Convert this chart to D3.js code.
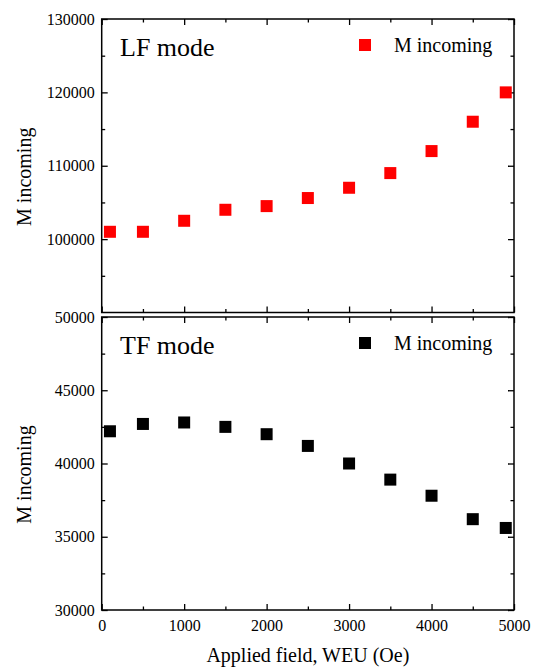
<!DOCTYPE html>
<html>
<head>
<meta charset="utf-8">
<script src="https://cdn.jsdelivr.net/npm/d3@7"></script>
<style>
  body { margin: 0; background: #fff; }
  svg text { font-family: "Times New Roman", "Liberation Serif", serif; fill: #000; }
  .axis path, .axis line { stroke: #000; stroke-width: 1.3; }
  .frame { fill: none; stroke: #000; stroke-width: 1.5; }
</style>
</head>
<body>
<script>
// applied field (Oe)
const fields = [100, 500, 1000, 1500, 2000, 2500, 3000, 3500, 4000, 4500, 4900];
// LF mode, M incoming
const lfValues = [101000, 101000, 102500, 104000, 104500, 105600, 107000, 109000, 112000, 116000, 120000];
// TF mode, M incoming
const tfValues = [42200, 42700, 42800, 42500, 42000, 41200, 40000, 38900, 37800, 36200, 35600];

const xTicks = [0, 1000, 2000, 3000, 4000, 5000];
const xMinor = [500, 1500, 2500, 3500, 4500];
const lfTicks = [100000, 110000, 120000, 130000];
const lfMinor = [95000, 105000, 115000, 125000];
const tfTicks = [30000, 35000, 40000, 45000, 50000];
const tfMinor = [32500, 37500, 42500, 47500];

const SERIF = '"Times New Roman", "Liberation Serif", serif';
const W = 535, H = 667;
const left = 101.7, right = 514;

const svg = d3.select("body").append("svg")
  .attr("width", W)
  .attr("height", H);

const x = d3.scaleLinear().domain([0, 5000]).range([left, right]);

const panels = [
  {title: "LF mode", values: lfValues, color: "#ff0000", domain: [90000, 130000],
   ticks: lfTicks, minor: lfMinor, top: 19, bottom: 312.5, labels: false},
  {title: "TF mode", values: tfValues, color: "#000000", domain: [30000, 50000],
   ticks: tfTicks, minor: tfMinor, top: 317, bottom: 610, labels: true}
];

panels.forEach(p => {
  const y = d3.scaleLinear().domain(p.domain).range([p.bottom, p.top]);
  const g = svg.append("g");
  const h = p.bottom - p.top;

  function drawAxis(axis, tf) {
    const a = g.append("g").attr("class", "axis")
      .attr("transform", tf).call(axis)
      .attr("font-family", SERIF)
      .attr("font-size", 16);
    a.select(".domain").remove();
    a.selectAll("text").style("font-family", SERIF).style("font-size", "16px");
    return a;
  }

  // left
  drawAxis(d3.axisLeft(y).tickValues(p.ticks).tickSizeInner(-6).tickSizeOuter(0).tickPadding(7).tickFormat(d3.format("d")),
    `translate(${left},0)`);
  drawAxis(d3.axisLeft(y).tickValues(p.minor).tickSizeInner(-3.5).tickSizeOuter(0).tickFormat(""),
    `translate(${left},0)`);
  // right
  drawAxis(d3.axisRight(y).tickValues(p.ticks).tickSizeInner(-6).tickSizeOuter(0).tickFormat(""),
    `translate(${right},0)`);
  drawAxis(d3.axisRight(y).tickValues(p.minor).tickSizeInner(-3.5).tickSizeOuter(0).tickFormat(""),
    `translate(${right},0)`);
  // bottom
  drawAxis(d3.axisBottom(x).tickValues(xTicks).tickSizeInner(-6).tickSizeOuter(0).tickPadding(10)
      .tickFormat(p.labels ? d3.format("d") : ""),
    `translate(0,${p.bottom})`);
  drawAxis(d3.axisBottom(x).tickValues(xMinor).tickSizeInner(-3.5).tickSizeOuter(0).tickFormat(""),
    `translate(0,${p.bottom})`);
  // top
  drawAxis(d3.axisTop(x).tickValues(xTicks).tickSizeInner(-6).tickSizeOuter(0).tickFormat(""),
    `translate(0,${p.top})`);
  drawAxis(d3.axisTop(x).tickValues(xMinor).tickSizeInner(-3.5).tickSizeOuter(0).tickFormat(""),
    `translate(0,${p.top})`);

  g.append("rect").attr("class", "frame")
    .attr("x", left).attr("y", p.top)
    .attr("width", right - left).attr("height", h);

  const s = 12;
  g.selectAll("rect.pt")
    .data(fields.map((f, i) => ({f, v: p.values[i]})))
    .join("rect")
    .attr("class", "pt")
    .attr("x", d => x(d.f) - s / 2)
    .attr("y", d => y(d.v) - s / 2)
    .attr("width", s).attr("height", s)
    .attr("fill", p.color);

  g.append("text")
    .attr("x", 120).attr("y", p.top + 37)
    .style("font-size", "26px")
    .text(p.title);

  // legend
  g.append("rect")
    .attr("x", 359).attr("y", p.top + 20)
    .attr("width", s).attr("height", s)
    .attr("fill", p.color);
  g.append("text")
    .attr("x", 394).attr("y", p.top + 33)
    .style("font-size", "20px")
    .text("M incoming");

  g.append("text")
    .attr("transform", `translate(31,${(p.top + p.bottom) / 2 + 11}) rotate(-90)`)
    .attr("text-anchor", "middle")
    .style("font-size", "20px")
    .text("M incoming");
});

svg.append("text")
  .attr("x", (left + right) / 2).attr("y", 662)
  .attr("text-anchor", "middle")
  .style("font-size", "20px")
  .text("Applied field, WEU (Oe)");
</script>
</body>
</html>
